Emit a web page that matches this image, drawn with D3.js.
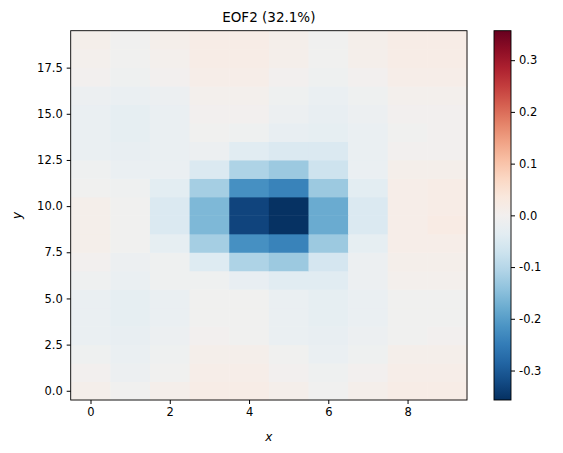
<!DOCTYPE html>
<html><head><meta charset="utf-8">
<script src="https://cdn.jsdelivr.net/npm/d3@7"></script>
<style>body{margin:0;background:#fff}text{font-family:"DejaVu Sans",sans-serif}</style>
</head><body><svg id="c" width="563" height="453"></svg>
<script>
const xCats = [0,1,2,3,4,5,6,7,8,9];
const yRows = d3.range(20);
// values[row] for y = 0..19, columns x = 0..9
const values = [
 [0.01,-0.005,0.01,0.02,0.02,0.01,-0.005,0.01,0.02,0.02],
 [0,-0.015,-0.005,0.015,0.015,0,-0.01,0,0.015,0.015],
 [-0.01,-0.02,-0.01,0.01,0.01,-0.005,-0.02,-0.01,0.01,0.01],
 [-0.02,-0.025,-0.015,0,-0.005,-0.02,-0.025,-0.015,-0.005,0],
 [-0.02,-0.03,-0.02,-0.005,-0.005,-0.02,-0.03,-0.02,-0.005,-0.005],
 [-0.02,-0.03,-0.02,-0.005,-0.005,-0.02,-0.03,-0.02,-0.005,-0.005],
 [-0.01,-0.02,-0.01,-0.01,-0.025,-0.04,-0.04,-0.015,0.005,0.005],
 [0,-0.015,-0.01,-0.045,-0.11,-0.13,-0.06,-0.015,0.01,0.01],
 [0.01,-0.005,-0.03,-0.12,-0.22,-0.24,-0.13,-0.03,0.015,0.015],
 [0.01,-0.005,-0.05,-0.16,-0.33,-0.355,-0.18,-0.05,0.015,0.025],
 [0.01,-0.005,-0.05,-0.16,-0.33,-0.355,-0.18,-0.05,0.015,0.02],
 [-0.005,-0.01,-0.035,-0.12,-0.22,-0.24,-0.13,-0.035,0.015,0.02],
 [-0.01,-0.02,-0.02,-0.05,-0.11,-0.13,-0.07,-0.02,0.01,0.01],
 [-0.02,-0.025,-0.02,-0.015,-0.04,-0.05,-0.05,-0.02,0,0],
 [-0.02,-0.03,-0.02,-0.005,-0.01,-0.025,-0.03,-0.02,-0.005,0],
 [-0.02,-0.03,-0.02,0,0,-0.015,-0.025,-0.015,0,0],
 [-0.015,-0.02,-0.015,0.005,0.005,-0.01,-0.02,-0.01,0.005,0.005],
 [0,-0.01,0,0.015,0.015,0,-0.01,0,0.015,0.015],
 [0.005,-0.005,0.005,0.02,0.02,0.01,-0.005,0.01,0.02,0.02],
 [0.01,-0.005,0.01,0.02,0.02,0.01,-0.005,0.01,0.02,0.02]
];
const xTicks = [0,2,4,6,8];
const yTicks = [0,2.5,5,7.5,10,12.5,15,17.5];
const cTicks = [-0.3,-0.2,-0.1,0,0.1,0.2,0.3];
const vmax = 0.357;

const svg = d3.select("#c");
const L=70.7,R=467,T=30.7,B=400;
const x = d3.scaleLinear().domain([-0.5,9.5]).range([L,R]);
const y = d3.scaleLinear().domain([-0.5,19.5]).range([B,T]);
const color = v => d3.interpolateRdBu(1-(v+vmax)/(2*vmax));

const cells=[];
values.forEach((row,j)=>row.forEach((v,i)=>cells.push({i,j,v})));
svg.append("g").selectAll("rect").data(cells).join("rect")
 .attr("x",d=>x(d.i-0.5)).attr("y",d=>y(d.j+0.5))
 .attr("width",x(1)-x(0)+0.5).attr("height",y(0)-y(1)+0.5)
 .attr("fill",d=>color(d.v));
svg.append("rect").attr("x",L).attr("y",T).attr("width",R-L).attr("height",B-T)
 .attr("fill","none").attr("stroke","#000").attr("stroke-width",0.9);

const fmt = d=>d.toFixed(1);
const gx = svg.append("g").attr("transform",`translate(0,${B})`)
 .call(d3.axisBottom(x).tickValues(xTicks).tickSize(4).tickPadding(4));
const gy = svg.append("g").attr("transform",`translate(${L},0)`)
 .call(d3.axisLeft(y).tickValues(yTicks).tickFormat(fmt).tickSize(4).tickPadding(4));
[gx,gy].forEach(g=>{g.select(".domain").remove();g.selectAll("text").attr("font-size",11.5).attr("fill","#000");g.selectAll("line").attr("stroke","#000");});

svg.append("text").attr("x",(L+R)/2).attr("y",22).attr("text-anchor","middle").attr("font-size",13.5).text("EOF2 (32.1%)");
svg.append("text").attr("x",(L+R)/2).attr("y",441).attr("text-anchor","middle").attr("font-size",12).attr("font-style","italic").text("x");
svg.append("text").attr("transform",`translate(21,${(T+B)/2}) rotate(-90)`).attr("text-anchor","middle").attr("font-size",12).attr("font-style","italic").text("y");

// colorbar
const cL=494,cW=17;
const cy = d3.scaleLinear().domain([-vmax,vmax]).range([B,T]);
const defs=svg.append("defs");
const grad=defs.append("linearGradient").attr("id","g").attr("x1",0).attr("y1",1).attr("x2",0).attr("y2",0);
d3.range(0,1.0001,0.05).forEach(t=>grad.append("stop").attr("offset",t).attr("stop-color",color(-vmax+2*vmax*t)));
svg.append("rect").attr("x",cL).attr("y",T).attr("width",cW).attr("height",B-T).attr("fill","url(#g)").attr("stroke","#000").attr("stroke-width",0.9);
const gc = svg.append("g").attr("transform",`translate(${cL+cW},0)`)
 .call(d3.axisRight(cy).tickValues(cTicks).tickFormat(fmt).tickSize(4).tickPadding(4));
gc.select(".domain").remove();gc.selectAll("text").attr("font-size",11.5).attr("fill","#000");
</script></body></html>
